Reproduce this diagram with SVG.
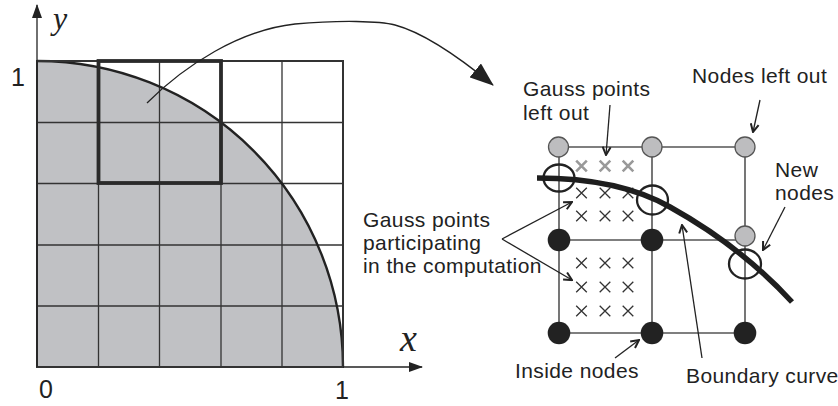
<svg xmlns="http://www.w3.org/2000/svg" xmlns:xlink="http://www.w3.org/1999/xlink" width="838" height="406" viewBox="0 0 838 406">
<style>
.lbl{font-family:"Liberation Sans",Arial,sans-serif;font-size:21px;letter-spacing:0.4px;fill:#222}
.num{font-family:"Liberation Sans",Arial,sans-serif;font-size:25px;fill:#222}
.ax{font-family:"Liberation Serif","Times New Roman",serif;font-style:italic;fill:#222}
.grid{stroke:#333;stroke-width:1.3;fill:none}
.rgrid{stroke:#555;stroke-width:1.6;fill:none}
.lead{stroke:#222;stroke-width:1.3;fill:none;marker-end:url(#vhead)}
.cx{stroke:#333;stroke-width:1.3}
.cg{stroke:#999;stroke-width:2.6}
.gnode{fill:#bdbdbf;stroke:#555;stroke-width:1.3}
.bnode{fill:#222}
.newn{fill:none;stroke:#222;stroke-width:2.3}
</style>
<defs>
<marker id="vhead" markerUnits="userSpaceOnUse" viewBox="0 0 10 10" markerWidth="10" markerHeight="10" refX="9" refY="5" orient="auto">
<path d="M1,1 L9,5 L1,9" fill="none" stroke="#222" stroke-width="2"/>
</marker>
<marker id="bighead" markerUnits="userSpaceOnUse" viewBox="0 0 24 18" markerWidth="24" markerHeight="18" refX="23" refY="9" orient="auto">
<path d="M0,0 L24,9 L0,18 Z" fill="#222"/>
</marker>
<marker id="axhead" markerUnits="userSpaceOnUse" viewBox="0 0 14 10" markerWidth="14" markerHeight="10" refX="13" refY="5" orient="auto">
<path d="M0,0 L14,5 L0,10 Z" fill="#222"/>
</marker>
<path id="cross" d="M-5.3,-5.3 L5.3,5.3 M-5.3,5.3 L5.3,-5.3"/>
</defs>

<g id="domain">
<path d="M37,367 L37,61 A306,306 0 0 1 343,367 Z" fill="#c0c1c4"/>
<path class="grid" d="M98.5,61 V367 M159.5,61 V367 M221,61 V367 M282,61 V367 M37,122.5 H343 M37,183.5 H343 M37,245 H343 M37,306 H343"/>
<path d="M37,61 A306,306 0 0 1 343,367" fill="none" stroke="#222" stroke-width="2.4"/>
<rect x="37" y="61" width="306" height="306" fill="none" stroke="#333" stroke-width="2"/>
<rect x="98.5" y="61" width="122.5" height="122" fill="none" stroke="#2a2a2a" stroke-width="3.8"/>
</g>

<g id="axes">
<line x1="37" y1="367" x2="37" y2="5" stroke="#222" stroke-width="1.3" marker-end="url(#axhead)"/>
<line x1="343" y1="367" x2="422" y2="367" stroke="#222" stroke-width="1.3" marker-end="url(#axhead)"/>
<text class="ax" x="53" y="29" font-size="32">y</text>
<text class="ax" x="400" y="351" font-size="38">x</text>
<text class="num" x="11" y="86">1</text>
<text class="num" x="39" y="398">0</text>
<text class="num" x="335" y="399">1</text>
</g>

<g id="element">
<path class="rgrid" d="M559,147 H745 M559,240 H745 M559,333 H745 M559,147 V333 M652,147 V333 M745,147 V333"/>
<g id="gauss-left-out" class="cg">
<use xlink:href="#cross" x="581.5" y="166"/>
<use xlink:href="#cross" x="605" y="166"/>
<use xlink:href="#cross" x="628" y="166"/>
</g>
<g id="gauss-participating" class="cx">
<use xlink:href="#cross" x="581.5" y="193"/>
<use xlink:href="#cross" x="605" y="193"/>
<use xlink:href="#cross" x="628" y="193"/>
<use xlink:href="#cross" x="581.5" y="216"/>
<use xlink:href="#cross" x="605" y="216"/>
<use xlink:href="#cross" x="628" y="216"/>
<use xlink:href="#cross" x="581.5" y="263"/>
<use xlink:href="#cross" x="605" y="263"/>
<use xlink:href="#cross" x="628" y="263"/>
<use xlink:href="#cross" x="581.5" y="287"/>
<use xlink:href="#cross" x="605" y="287"/>
<use xlink:href="#cross" x="628" y="287"/>
<use xlink:href="#cross" x="581.5" y="311"/>
<use xlink:href="#cross" x="605" y="311"/>
<use xlink:href="#cross" x="628" y="311"/>
</g>
<g id="nodes-left-out">
<circle class="gnode" cx="558.5" cy="147" r="10"/>
<circle class="gnode" cx="652" cy="147" r="10"/>
<circle class="gnode" cx="745" cy="147" r="10"/>
<circle class="gnode" cx="745" cy="236" r="10"/>
</g>
<g id="inside-nodes">
<circle class="bnode" cx="559" cy="240" r="11.3"/>
<circle class="bnode" cx="652" cy="240" r="11.3"/>
<circle class="bnode" cx="559" cy="333" r="11.3"/>
<circle class="bnode" cx="652" cy="333" r="11.3"/>
<circle class="bnode" cx="745" cy="333" r="11.3"/>
</g>
<g id="new-nodes">
<ellipse class="newn" cx="559" cy="178" rx="15.5" ry="13.5"/>
<ellipse class="newn" cx="652.5" cy="200" rx="15.5" ry="14.5"/>
<ellipse class="newn" cx="745" cy="264" rx="16" ry="14.5"/>
</g>
<path id="boundary-curve" d="M537,178 C600,178 640,190 670,207 C715,232 758,265 792,302" fill="none" stroke="#1e1e1e" stroke-width="5.5"/>
</g>

<g id="labels">
<text class="lbl" x="523" y="96">Gauss points</text>
<text class="lbl" x="523" y="120">left out</text>
<text class="lbl" x="692" y="83">Nodes left out</text>
<text class="lbl" x="775" y="177">New</text>
<text class="lbl" x="775" y="200">nodes</text>
<text class="lbl" x="363" y="227">Gauss points</text>
<text class="lbl" x="363" y="250">participating</text>
<text class="lbl" x="363" y="273">in the computation</text>
<text class="lbl" x="515" y="378">Inside nodes</text>
<text class="lbl" x="686" y="383">Boundary curve</text>
</g>

<g id="connectors">
<path d="M147,103 C185,65 240,30 295,24 C340,20 380,21 395,25 C425,33 465,62 493,85" fill="none" stroke="#222" stroke-width="1.3" marker-end="url(#bighead)"/>
<line class="lead" x1="610" y1="105" x2="606" y2="155"/>
<line class="lead" x1="760" y1="100" x2="753" y2="132"/>
<line class="lead" x1="785" y1="207" x2="763" y2="250"/>
<line class="lead" x1="502" y1="239" x2="572" y2="202"/>
<line class="lead" x1="502" y1="239" x2="572" y2="280"/>
<line class="lead" x1="615" y1="358" x2="639" y2="340"/>
<line class="lead" x1="702" y1="358" x2="682" y2="225"/>
</g>
</svg>
